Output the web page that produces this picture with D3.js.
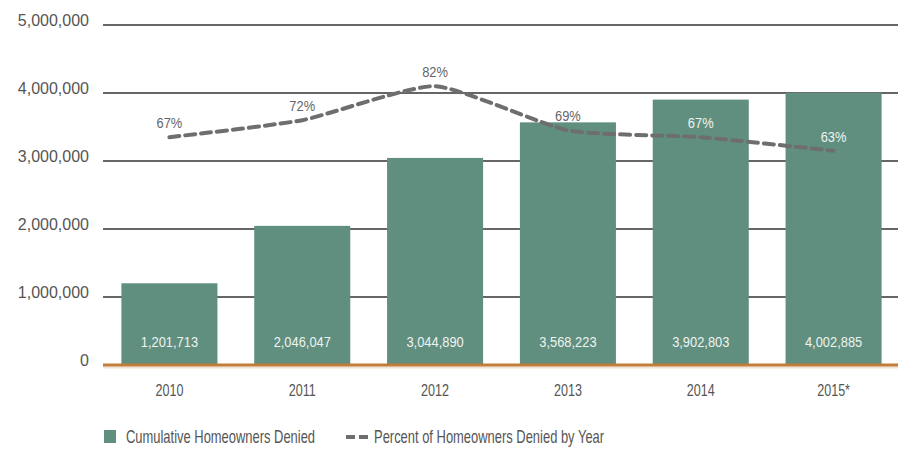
<!DOCTYPE html>
<html>
<head>
<meta charset="utf-8">
<script src="https://cdn.jsdelivr.net/npm/d3@7"></script>
<style>
  body { margin: 0; background: #fff; }
  svg text { font-family: "Liberation Sans", Arial, sans-serif; }
</style>
</head>
<body>
<div id="vis"></div>
<script>
// chart data
var years = ["2010", "2011", "2012", "2013", "2014", "2015*"];
var denied = [1201713, 2046047, 3044890, 3568223, 3902803, 4002885];
var percentDenied = [67, 72, 82, 69, 67, 63];
var yTicks = [0, 1000000, 2000000, 3000000, 4000000, 5000000];

var width = 898, height = 450;
var plotLeft = 103, plotRight = 900, plotTop = 25, plotBottom = 365;
var narrow = 0.74; // horizontal squeeze for the condensed labels

var svg = d3.select("#vis").append("svg")
  .attr("width", width)
  .attr("height", height);

var x = d3.scaleBand()
  .domain(years)
  .range([plotLeft, plotRight])
  .paddingInner(0.277)
  .paddingOuter(0.1385);

var y = d3.scaleLinear()
  .domain([0, 5000000])
  .range([plotBottom, plotTop]);

// percent shares the same vertical extent (0-100%)
var yPct = d3.scaleLinear()
  .domain([0, 100])
  .range([plotBottom, plotTop]);

var fmt = d3.format(",");

// gridlines
svg.append("g").selectAll("line")
  .data(yTicks.filter(function(d) { return d > 0; }))
  .enter().append("line")
  .attr("x1", plotLeft).attr("x2", width)
  .attr("y1", function(d) { return y(d); })
  .attr("y2", function(d) { return y(d); })
  .style("stroke", "#333")
  .style("stroke-width", 1.6);

// y axis labels
svg.append("g").selectAll("text")
  .data(yTicks)
  .enter().append("text")
  .attr("x", 89)
  .attr("y", function(d) { return y(d); })
  .attr("dy", "0.05em")
  .attr("text-anchor", "end")
  .style("font-size", "16px")
  .style("fill", "#555")
  .text(function(d) { return fmt(d); });

// bars
svg.append("g").selectAll("rect")
  .data(denied)
  .enter().append("rect")
  .attr("x", function(d, i) { return x(years[i]); })
  .attr("width", x.bandwidth())
  .attr("y", function(d) { return y(d); })
  .attr("height", function(d) { return y(0) - y(d); })
  .style("fill", "#608f7f");

// bar value labels
svg.append("g").selectAll("text")
  .data(denied)
  .enter().append("text")
  .attr("transform", function(d, i) {
    return "translate(" + (x(years[i]) + x.bandwidth() / 2) + "," + (y(0) - 18) + ") scale(0.92,1)";
  })
  .attr("text-anchor", "middle")
  .style("font-size", "14px")
  .style("fill", "#eef3f0")
  .text(function(d) { return fmt(d); });

// baseline
svg.append("line")
  .attr("x1", plotLeft).attr("x2", width)
  .attr("y1", y(0) + 2.5).attr("y2", y(0) + 2.5)
  .style("stroke", "#f1e3d3")
  .style("stroke-width", 2);
svg.append("line")
  .attr("x1", plotLeft).attr("x2", width)
  .attr("y1", y(0)).attr("y2", y(0))
  .style("stroke", "#c07e3a")
  .style("stroke-width", 3);

// x axis labels
svg.append("g").selectAll("text")
  .data(years)
  .enter().append("text")
  .attr("transform", function(d) {
    return "translate(" + (x(d) + x.bandwidth() / 2) + ",396) scale(" + narrow + ",1)";
  })
  .attr("text-anchor", "middle")
  .style("font-size", "17px")
  .style("fill", "#555")
  .text(function(d) { return d; });

// percent line
var line = d3.line()
  .x(function(d, i) { return x(years[i]) + x.bandwidth() / 2; })
  .y(function(d) { return yPct(d); })
  .curve(d3.curveCardinal.tension(0.45));

svg.append("path")
  .datum(percentDenied)
  .attr("d", line)
  .style("fill", "none")
  .style("stroke", "#6e6e70")
  .style("stroke-width", 4)
  .style("stroke-dasharray", "10,6")
  .style("stroke-linecap", "round");

// percent labels
svg.append("g").selectAll("text")
  .data(percentDenied)
  .enter().append("text")
  .attr("transform", function(d, i) {
    return "translate(" + (x(years[i]) + x.bandwidth() / 2) + "," + (yPct(d) - 9) + ") scale(0.92,1)";
  })
  .attr("text-anchor", "middle")
  .style("font-size", "14px")
  .style("fill", function(d, i) {
    var labelTop = yPct(d) - 20;
    return labelTop > y(denied[i]) ? "#eef3f0" : "#666";
  })
  .text(function(d) { return d + "%"; });

// legend
var legend = svg.append("g")
  .style("font-size", "17.5px")
  .style("fill", "#555");

legend.append("rect")
  .attr("x", 104).attr("y", 430)
  .attr("width", 12).attr("height", 13)
  .style("fill", "#608f7f");
legend.append("text")
  .attr("transform", "translate(126,443) scale(" + narrow + ",1)")
  .text("Cumulative Homeowners Denied");

legend.append("line")
  .attr("x1", 346).attr("x2", 368)
  .attr("y1", 437).attr("y2", 437)
  .style("stroke", "#6e6e70")
  .style("stroke-width", 4)
  .style("stroke-dasharray", "9,4");
legend.append("text")
  .attr("transform", "translate(374,443) scale(" + narrow + ",1)")
  .text("Percent of Homeowners Denied by Year");
</script>
</body>
</html>
